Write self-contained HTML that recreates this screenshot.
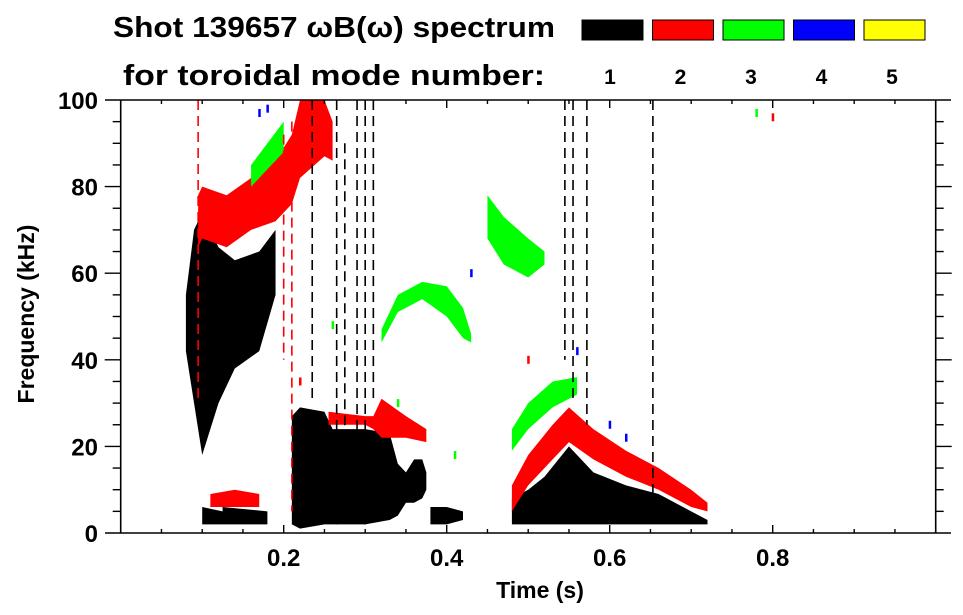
<!DOCTYPE html>
<html><head><meta charset="utf-8"><style>
body{margin:0;background:#fff;}
svg{display:block;font-family:"Liberation Sans",sans-serif;font-weight:bold;}
</style></head><body>
<svg id="chart" width="963" height="615" viewBox="0 0 963 615">
<text x="113" y="37" font-size="29" textLength="442" lengthAdjust="spacingAndGlyphs">Shot 139657 ωB(ω) spectrum</text>
<text x="123" y="85" font-size="29" textLength="422" lengthAdjust="spacingAndGlyphs">for toroidal mode number:</text>
<g id="legend"></g>
<g id="marks"></g>
<g id="axes"></g>
<text x="540" y="598" font-size="23" text-anchor="middle">Time (s)</text>
<text transform="translate(34,314) rotate(-90)" font-size="23" text-anchor="middle">Frequency (kHz)</text>
</svg>
<script>
const modeNumbers=[1,2,3,4,5];
const modeColors=['#000','#f00','#0f0','#00f','#ff0'];
const xTicks=[0.2,0.4,0.6,0.8];
const yTicks=[0,20,40,60,80,100];
// bands: mode, times, low freq, high freq
const band1T=[0.08,0.09,0.1,0.12,0.14,0.17,0.19];
const band1L=[42,30,18,30,38,42,55];
const band1H=[55,70,74,66,63,65,70];
const band2T=[0.1,0.125,0.125,0.18];
const band2L=[2,2,2,2];
const band2H=[6,5,6,5];
const band3T=[0.21,0.22,0.25,0.26,0.3,0.33,0.34,0.35,0.36,0.37,0.375];
const band3L=[2,1,2,2,2,3,4,7,7,8,10];
const band3H=[27,29,28,24,24,23,16,14,17,17,14];
const band4T=[0.38,0.4,0.42];
const band4L=[2,2,3];
const band4H=[6,6,5];
const band5T=[0.48,0.5,0.52,0.55,0.58,0.62,0.66,0.7,0.72];
const band5L=[2,2,2,2,2,2,2,2,2];
const band5H=[8,10,13,20,14,11,9,5,3];
// red
const band6T=[0.095,0.1,0.13,0.16,0.19,0.21,0.22,0.25,0.26];
const band6L=[66,68,66,70,72,76,82,87,86];
const band6H=[78,80,78,82,86,92,100,100,95];
const band7T=[0.255,0.3,0.31,0.32,0.35,0.375];
const band7L=[25,25,24,22,22,21];
const band7H=[28,27,27,31,27,24];
const band8T=[0.48,0.5,0.53,0.55,0.58,0.62,0.66,0.7,0.72];
const band8L=[5,11,17,21,17,13,10,6,5];
const band8H=[11,18,25,29,24,19,15,10,7];
const band8bT=[0.11,0.14,0.17];
const band8bL=[6,6,6];
const band8bH=[9,10,9];
// green
const band9T=[0.16,0.18,0.2];
const band9L=[80,84,88];
const band9H=[85,90,95];
const band10T=[0.32,0.34,0.37,0.4,0.42,0.43];
const band10L=[44,51,54,50,45,44];
const band10H=[47,55,58,57,52,46];
const band11T=[0.45,0.47,0.5,0.52];
const band11L=[68,62,59,62];
const band11H=[78,73,68,65];
const band12T=[0.48,0.5,0.53,0.56];
const band12L=[19,24,29,32];
const band12H=[24,30,35,36];
const bandModes=[1,1,1,1,1,2,2,2,2,3,3,3,3];
const bandTimes=[band1T,band2T,band3T,band4T,band5T,band6T,band7T,band8T,band8bT,band9T,band10T,band11T,band12T];
const bandLows=[band1L,band2L,band3L,band4L,band5L,band6L,band7L,band8L,band8bL,band9L,band10L,band11L,band12L];
const bandHighs=[band1H,band2H,band3H,band4H,band5H,band6H,band7H,band8H,band8bH,band9H,band10H,band11H,band12H];
// vertical streaks
const streakT=[0.2,0.21,0.235,0.265,0.275,0.29,0.3,0.31,0.555,0.572,0.653,0.545,0.095];
const streakLo=[40,5,30,2,10,10,2,30,30,25,5,40,30];
const streakHi=[92,95,100,100,90,100,100,100,100,100,100,100,100];
const streakMode=[2,2,1,1,1,1,1,1,1,1,1,1,2];
// scattered dots
const dotT=[0.17,0.18,0.26,0.34,0.43,0.56,0.6,0.62,0.78,0.8,0.22,0.5,0.41];
const dotF=[97,98,48,30,60,42,25,22,97,96,35,40,18];
const dotMode=[4,4,3,3,4,4,4,4,3,2,2,2,3];

const X0=120.7,XS=815,Y0=533,YS=4.33;
const xs=t=>X0+t*XS, ys=f=>Y0-f*YS;
const NS='http://www.w3.org/2000/svg';
function mk(tag,attrs,parent){const e=document.createElementNS(NS,tag);for(const k in attrs)e.setAttribute(k,attrs[k]);parent.appendChild(e);return e;}
const marks=document.getElementById('marks'),axes=document.getElementById('axes'),legend=document.getElementById('legend');

modeNumbers.forEach((m,i)=>{
  const r=mk('rect',{x:582+i*70.5,y:20,width:61,height:20,fill:modeColors[i],stroke:'#000','stroke-width':1},legend);
  
  
  const t=mk('text',{x:610+i*70.5,y:84,'font-size':21,'text-anchor':'middle'},legend);
  t.textContent=m;
  
  
});

bandTimes.forEach((T,b)=>{
  const L=bandLows[b],H=bandHighs[b];
  let pts=T.map((t,i)=>xs(t)+','+ys(H[i]));
  pts=pts.concat(T.map((t,i)=>xs(t)+','+ys(L[i])).reverse());
  const p=mk('polygon',{points:pts.join(' '),fill:modeColors[bandModes[b]-1]},marks);
  
  
});
streakT.forEach((t,i)=>{
  const l=mk('line',{x1:xs(t),x2:xs(t),y1:ys(streakHi[i]),y2:ys(streakLo[i]),stroke:modeColors[streakMode[i]-1],'stroke-width':1.6,'stroke-dasharray':'10 6'},marks);
  
  
});
dotT.forEach((t,i)=>{
  const r=mk('rect',{x:xs(t)-1,y:ys(dotF[i])-4,width:2.5,height:8,fill:modeColors[dotMode[i]-1]},marks);
  
  
});

// axes frame
const XR=xs(1),YT=ys(100);
[[105,Y0,951,Y0],[105,YT,951,YT],[X0,YT,X0,Y0],[XR,YT,XR,Y0]].forEach(a=>{
  const l=mk('line',{x1:a[0],y1:a[1],x2:a[2],y2:a[3],stroke:'#000','stroke-width':1.6},axes);
  
  
});
for(let k=1;k<20;k++){const t=k*0.05,maj=k%4==0,len=maj?8:4;
  mk('line',{x1:xs(t),x2:xs(t),y1:Y0,y2:Y0-len,stroke:'#000','stroke-width':1.4},axes);
  mk('line',{x1:xs(t),x2:xs(t),y1:YT,y2:YT+len,stroke:'#000','stroke-width':1.4},axes);}
for(let k=1;k<20;k++){const f=k*5,maj=k%4==0,len=maj?16:8;
  mk('line',{x1:X0-len,x2:X0,y1:ys(f),y2:ys(f),stroke:'#000','stroke-width':1.4},axes);
  mk('line',{x1:XR,x2:XR+len,y1:ys(f),y2:ys(f),stroke:'#000','stroke-width':1.4},axes);}
xTicks.forEach(t=>{const e=mk('text',{x:xs(t),y:566,'font-size':24,'text-anchor':'middle'},axes);e.textContent=t.toFixed(1);
  
  });
yTicks.forEach(f=>{const e=mk('text',{x:98,y:ys(f)+9,'font-size':24,'text-anchor':'end'},axes);e.textContent=f;
  
  });
</script>
</body></html>
